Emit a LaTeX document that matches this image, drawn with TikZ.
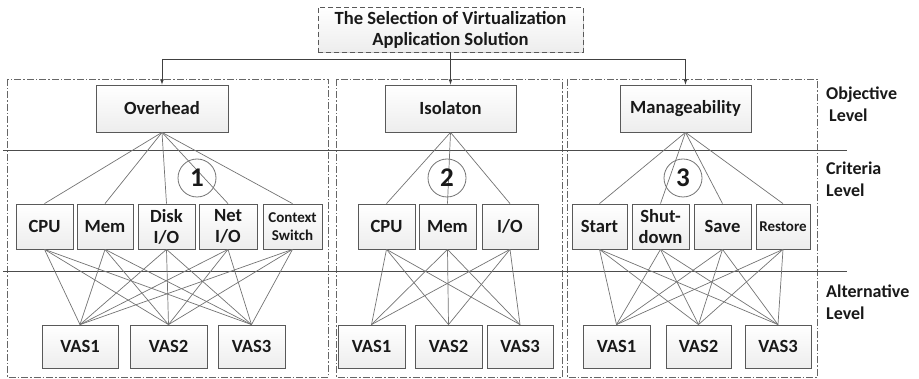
\documentclass[tikz,border=0pt]{standalone}
\usepackage{fontspec}
\setmainfont{Carlito}
\usepackage{tikz}
\usetikzlibrary{arrows}
\usetikzlibrary{shadows}

\tikzset{
  box/.style={draw=black!65, top color=white, bottom color=gray!14, line width=0.8pt,
    inner sep=0pt, align=center, text=black!90,
    drop shadow={shadow xshift=1.2pt, shadow yshift=-1.2pt, fill=black, opacity=0.18},
    font=\bfseries\fontsize{18.6}{21}\selectfont},
  small/.style={font=\bfseries\fontsize{15}{18}\selectfont},
  link/.style={draw=black!55, line width=0.7pt},
  level/.style={draw=black!70, line width=0.9pt},
  panel/.style={draw=black!60, line width=0.8pt, dash pattern=on 7pt off 2pt on 1.5pt off 2pt},
  num/.style={circle, draw=black!55, line width=0.8pt, minimum size=38pt, inner sep=0pt,
    text=black!90, font=\bfseries\fontsize{27}{27}\selectfont},
  lvl/.style={anchor=north west, inner sep=0pt, align=left, text=black!90,
    font=\bfseries\fontsize{18}{22}\selectfont}
}

\begin{document}
\begin{tikzpicture}[x=1pt,y=-1pt]
  \useasboundingbox (0,0) rectangle (919,379);

  % panels and levels
  \draw[panel] (7,79) rectangle (328,377.5);
  \draw[panel] (336,79) rectangle (562,377.5);
  \draw[panel] (567,79) rectangle (817,377.5);
  \draw[level] (3,150) -- (847,150);
  \draw[level] (3,271) -- (847,271);

  \node[lvl] (lobj) at (826,87) {Objective\\\hspace*{3pt}Level};
  \node[lvl] (lcri) at (826,162) {Criteria\\Level};
  \node[lvl] (lalt) at (826,285) {Alternative\\Level};

  % goal
  \node[box, dashed, dash pattern=on 5pt off 3pt, minimum width=265pt, minimum height=45pt]
    (sel) at (450.5,29.5) {The Selection of Virtualization\\Application Solution};

  % objectives
  \node[box, minimum width=132pt, minimum height=47pt] (ovh) at (162,108.5) {Overhead};
  \node[box, minimum width=131pt, minimum height=47pt] (iso) at (450.5,108.5) {Isolaton};
  \node[box, minimum width=131pt, minimum height=47pt] (man) at (685.5,108.5) {Manageability};

  \coordinate (bus) at (450,59);
  \draw[link, draw=black!75, line width=0.8pt, -latex] (sel.south) -- (iso.north);
  \draw[link, draw=black!75, line width=0.8pt] (bus -| ovh.north) -- (bus -| man.north);
  \draw[link, draw=black!75, line width=0.8pt, -latex] (bus -| ovh.north) -- (ovh.north);
  \draw[link, draw=black!75, line width=0.8pt, -latex] (bus -| man.north) -- (man.north);

  % criteria
  \node[box, minimum width=57pt, minimum height=45pt] (o1) at (44.5,226.5) {CPU};
  \node[box, minimum width=56pt, minimum height=45pt] (o2) at (105,226.5) {Mem};
  \node[box, minimum width=57pt, minimum height=45pt] (o3) at (166.5,226.5) {Disk\\I/O};
  \node[box, minimum width=58pt, minimum height=45pt] (o4) at (228,226.5) {Net\\I/O};
  \node[box, small, minimum width=59pt, minimum height=45pt] (o5) at (292.5,226.5) {Context\\Switch};

  \node[box, minimum width=57pt, minimum height=45pt] (i1) at (386.5,226.5) {CPU};
  \node[box, minimum width=57pt, minimum height=45pt] (i2) at (447.5,226.5) {Mem};
  \node[box, minimum width=56pt, minimum height=45pt] (i3) at (510,226.5) {I/O};

  \node[box, minimum width=55pt, minimum height=45pt] (m1) at (599.5,226.5) {Start};
  \node[box, minimum width=57pt, minimum height=45pt] (m2) at (660.5,226.5) {Shut-\\down};
  \node[box, minimum width=57pt, minimum height=45pt] (m3) at (722.5,226.5) {Save};
  \node[box, small, minimum width=54pt, minimum height=45pt] (m4) at (783,226.5) {Restore};

  % alternatives
  \node[box, minimum width=76pt, minimum height=43pt] (ov1) at (80,346.5) {VAS1};
  \node[box, minimum width=77pt, minimum height=43pt] (ov2) at (168.5,346.5) {VAS2};
  \node[box, minimum width=67pt, minimum height=43pt] (ov3) at (251.5,346.5) {VAS3};

  \node[box, minimum width=67pt, minimum height=43pt] (iv1) at (371.5,346.5) {VAS1};
  \node[box, minimum width=67pt, minimum height=43pt] (iv2) at (448.5,346.5) {VAS2};
  \node[box, minimum width=66pt, minimum height=43pt] (iv3) at (520,346.5) {VAS3};

  \node[box, minimum width=67pt, minimum height=43pt] (mv1) at (616.5,346.5) {VAS1};
  \node[box, minimum width=65pt, minimum height=43pt] (mv2) at (698.5,346.5) {VAS2};
  \node[box, minimum width=66pt, minimum height=43pt] (mv3) at (778,346.5) {VAS3};

  % links
  \foreach \c in {o1,o2,o3,o4,o5} {
    \draw[link] (ovh.south) -- (\c.north);
    \foreach \v in {ov1,ov2,ov3}
      \draw[link] (\c.south) -- (\v.north);
  }
  \foreach \c in {i1,i2,i3} {
    \draw[link] (iso.south) -- (\c.north);
    \foreach \v in {iv1,iv2,iv3}
      \draw[link] (\c.south) -- (\v.north);
  }
  \foreach \c in {m1,m2,m3,m4} {
    \draw[link] (man.south) -- (\c.north);
    \foreach \v in {mv1,mv2,mv3}
      \draw[link] (\c.south) -- (\v.north);
  }

  \node[num] (n1) at (197,178) {1};
  \node[num] (n2) at (447,178) {2};
  \node[num] (n3) at (683,178) {3};
\end{tikzpicture}
\end{document}
